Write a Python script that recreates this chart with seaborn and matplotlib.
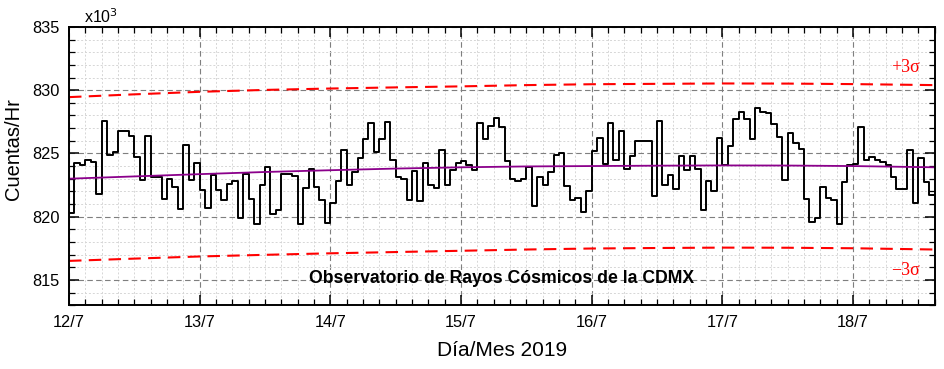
import numpy as np
import pandas as pd
import matplotlib
matplotlib.use("Agg")
import matplotlib.pyplot as plt
import seaborn as sns

# hourly counts (x10^3) starting 12/7 00h, one value per hour
counts_k = [
    820.3, 824.25, 824.05, 824.5, 824.35, 821.8, 827.6, 824.9, 825.1, 826.8,
    826.75, 826.4, 824.75, 822.9, 826.4, 823.15, 823.1, 821.4, 823.0, 822.35,
    820.6, 825.7, 822.9, 824.25,
    822.1, 820.7, 823.3, 822.1, 821.3, 822.6, 822.8, 819.9, 823.4, 821.4,
    819.4, 822.5, 823.9, 820.2, 820.5, 823.4, 823.4, 823.2, 819.4, 822.3,
    823.75, 822.35, 821.35, 819.5,
    821.1, 822.8, 825.3, 822.5, 823.5, 824.65, 826.1, 827.4, 825.1, 826.1,
    827.5, 824.5, 823.15, 823.0, 821.3, 823.6, 821.2, 824.25, 822.5, 822.25,
    825.3, 822.5, 823.7, 824.25,
    824.4, 824.1, 823.7, 827.4, 826.1, 827.2, 827.8, 827.1, 824.4, 823.0,
    822.85, 822.95, 823.9, 820.85, 823.1, 822.5, 823.5, 824.9, 825.0, 822.4,
    821.3, 821.45, 820.4, 822.0,
    825.2, 826.2, 824.2, 827.4, 824.5, 826.8, 823.8, 824.8, 826.0, 825.95,
    825.95, 821.6, 827.6, 822.5, 823.3, 822.2, 824.8, 823.7, 824.8, 823.8,
    820.55, 822.8, 822.0, 826.2,
    824.1, 825.6, 827.7, 828.3, 827.75, 826.1, 828.6, 828.3, 828.2, 827.3,
    826.3, 822.9, 826.6, 825.8, 825.35, 821.4, 819.55, 819.9, 822.35, 821.45,
    821.35, 819.45, 822.7, 824.1,
    824.2, 827.1, 824.5, 824.7, 824.5, 824.3, 824.1, 823.1, 822.2, 822.2,
    825.3, 821.1, 824.6, 822.7, 821.7,
]

# smooth fit and +/-3 sigma bands, read at half-day marks
fit_days = [12.0, 12.5, 13.0, 13.5, 14.0, 14.5, 15.0, 15.5, 16.0, 16.5, 17.0, 17.5, 18.0, 18.625]
fit_k = [823.0, 823.18, 823.36, 823.53, 823.67, 823.8, 823.9, 823.97, 824.0, 824.03, 824.05, 824.04, 824.0, 823.9]
upper_k = [829.45, 829.67, 829.87, 830.02, 830.13, 830.22, 830.3, 830.4, 830.47, 830.5, 830.53, 830.52, 830.48, 830.4]
lower_k = [816.5, 816.68, 816.85, 816.98, 817.1, 817.2, 817.3, 817.4, 817.48, 817.52, 817.55, 817.54, 817.5, 817.4]

day_ticks = [12, 13, 14, 15, 16, 17, 18]
day_labels = ["12/7", "13/7", "14/7", "15/7", "16/7", "17/7", "18/7"]

# build step data (extra point so the last hour reaches the axis edge)
day = 12 + np.arange(len(counts_k) + 1) / 24
df = pd.DataFrame({"dia": day, "cuentas": counts_k + [counts_k[-1]]})
fit = pd.DataFrame({"dia": fit_days, "fit": fit_k, "up": upper_k, "lo": lower_k})

sns.set_style("ticks")
plt.rcParams["font.family"] = ["Liberation Sans", "DejaVu Sans"]
plt.rcParams["text.color"] = "black"
plt.rcParams["axes.labelcolor"] = "black"

fig = plt.figure(figsize=(9.45, 3.69), dpi=100)
ax = fig.add_axes([0.073, 0.173, 0.916, 0.754])

sns.lineplot(data=fit, x="dia", y="up", ax=ax, color="#ff0000", lw=1.5,
             dashes=False, linestyle=(0, (6, 3.5)))
sns.lineplot(data=fit, x="dia", y="lo", ax=ax, color="#ff0000", lw=1.5,
             dashes=False, linestyle=(0, (6, 3.5)))
sns.lineplot(data=df, x="dia", y="cuentas", ax=ax, color="black", lw=1.4,
             drawstyle="steps-post")
sns.lineplot(data=fit, x="dia", y="fit", ax=ax, color="#8b008b", lw=1.3)

ax.set_xlim(12, 12 + len(counts_k) / 24)
ax.set_ylim(813, 835)
ax.set_xticks(day_ticks)
ax.set_xticklabels(day_labels)
ax.set_xticks(np.arange(12, 18.7, 0.125), minor=True)
ax.set_yticks([815, 820, 825, 830, 835])
ax.set_yticks(np.arange(813, 835.5, 1), minor=True)

ax.grid(which="minor", color="#d6d6d6", linestyle=(0, (2, 2)), lw=0.7)
ax.grid(which="major", color="#7f7f7f", linestyle=(0, (5, 3)), lw=0.8)
ax.set_axisbelow(True)

ax.tick_params(which="both", direction="in", top=True, right=True,
               labelsize=11.8, colors="black")
ax.tick_params(which="major", length=7, width=1.1, pad=7)
ax.tick_params(which="minor", length=4, width=0.9)
for s in ax.spines.values():
    s.set_linewidth(1.4)
    s.set_color("black")

ax.set_xlabel("Día/Mes 2019", fontsize=15, labelpad=8)
ax.set_ylabel("Cuentas/Hr", fontsize=14.5)
ax.yaxis.set_label_coords(-0.053, 0.56)

ax.text(0.017, 1.005, "x10$^3$", transform=ax.transAxes, fontsize=11.5,
        ha="left", va="bottom")
ax.text(0.5, 0.095, "Observatorio de Rayos Cósmicos de la CDMX",
        transform=ax.transAxes, fontsize=12.7, fontweight="bold",
        ha="center", va="center")
ax.text(0.966, 0.855, "+3σ", transform=ax.transAxes, color="#ff0000",
        fontsize=13, family="Liberation Serif", ha="center", va="center")
ax.text(0.966, 0.125, "−3σ", transform=ax.transAxes, color="#ff0000",
        fontsize=13, family="Liberation Serif", ha="center", va="center")

fig.savefig("out.png", dpi=100)
